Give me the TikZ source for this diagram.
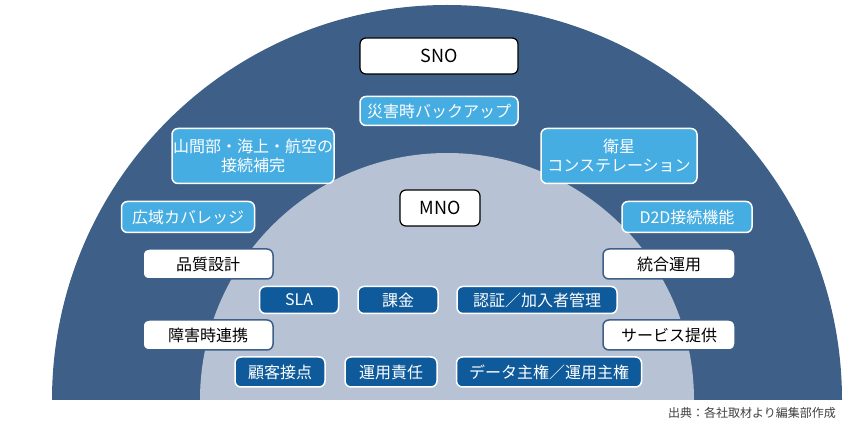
\documentclass[tikz,border=0pt]{standalone}
\usepackage{fontspec}
\setmainfont{Noto Sans CJK JP}
\definecolor{outerc}{HTML}{3E5F87}
\definecolor{innerc}{HTML}{B7C3D5}
\definecolor{lightb}{HTML}{45ADE2}
\definecolor{darkb}{HTML}{0E5A9A}
\begin{document}
\begin{tikzpicture}[x=1pt,y=-1pt,
 box/.style={rounded corners=6pt,line width=1.5pt,align=center,inner sep=0pt,
   font=\fontsize{16}{19}\selectfont},
 wb/.style={box,fill=white,draw=black,line width=1.2pt,font=\fontsize{18}{20}\selectfont},
 lb/.style={box,fill=lightb,draw=white,text=white},
 db/.style={box,fill=darkb,draw=white,text=white},
 gb/.style={box,fill=white,draw=outerc,text=black}]
\useasboundingbox (0,0) rectangle (860,430);
\fill[outerc] (52,400) arc[start angle=180,end angle=360,radius=395] -- cycle;
\fill[innerc] (200,400) arc[start angle=180,end angle=360,radius=247] -- cycle;
\node[wb,minimum width=158pt,minimum height=36pt] (sno) at (439,56) {SNO};
\node[lb,minimum width=158pt,minimum height=29pt] (bk) at (439,111) {災害時バックアップ};
\node[lb,minimum width=162pt,minimum height=55pt] (mt) at (253,156) {山間部・海上・航空の\\接続補完};
\node[lb,minimum width=156pt,minimum height=55pt] (sat) at (619,156) {衛星\\コンステレーション};
\node[wb,minimum width=80pt,minimum height=36pt] (mno) at (440,208) {MNO};
\node[lb,minimum width=133pt,minimum height=31pt] (cov) at (188,217) {広域カバレッジ};
\node[lb,minimum width=130pt,minimum height=31pt] (d2d) at (687,217) {D2D接続機能};
\node[gb,minimum width=130pt,minimum height=30pt] (q) at (208,264) {品質設計};
\node[gb,minimum width=132pt,minimum height=30pt] (op) at (669,264) {統合運用};
\node[db,minimum width=79pt,minimum height=27pt] (sla) at (299,300) {SLA};
\node[db,minimum width=80pt,minimum height=27pt] (bill) at (398,300) {課金};
\node[db,minimum width=160pt,minimum height=27pt] (auth) at (537,300) {認証／加入者管理};
\node[gb,minimum width=130pt,minimum height=30pt] (fail) at (208,335) {障害時連携};
\node[gb,minimum width=132pt,minimum height=30pt] (svc) at (669,335) {サービス提供};
\node[db,minimum width=90pt,minimum height=30pt] (cust) at (280,372) {顧客接点};
\node[db,minimum width=92pt,minimum height=30pt] (resp) at (391,372) {運用責任};
\node[db,minimum width=185pt,minimum height=30pt] (sov) at (549,372) {データ主権／運用主権};
\node[anchor=east,inner sep=0pt,text=black!75,font=\fontsize{12}{14}\selectfont] (src) at (836,413) {出典：各社取材より編集部作成};
\end{tikzpicture}
\end{document}
